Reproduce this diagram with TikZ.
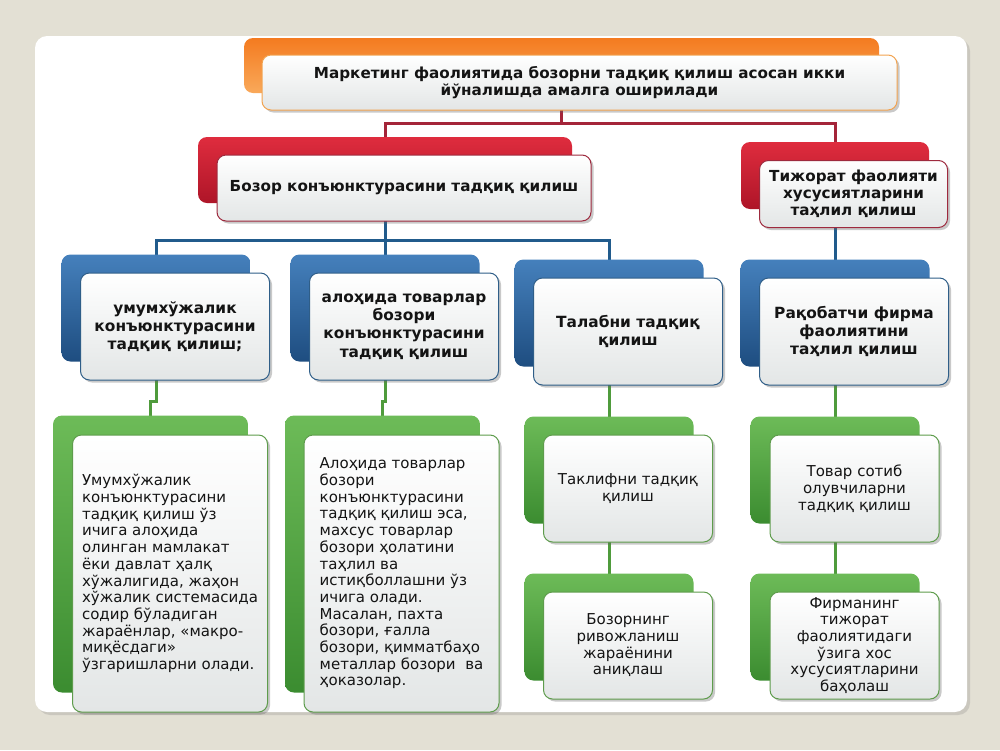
\documentclass[tikz,border=0pt]{standalone}
\usepackage{fontspec}
\setmainfont{DejaVu Sans}
\usetikzlibrary{shadows}
\definecolor{bgc}{HTML}{E3E0D4}
\definecolor{orT}{HTML}{F47B20}
\definecolor{orB}{HTML}{F9A95A}
\definecolor{orL}{HTML}{F2A350}
\definecolor{rdT}{HTML}{DF2C3E}
\definecolor{rdB}{HTML}{AE1528}
\definecolor{rdL}{HTML}{9E2A3E}
\definecolor{blT}{HTML}{4580BC}
\definecolor{blB}{HTML}{1E4D80}
\definecolor{blL}{HTML}{2F5E88}
\definecolor{grT}{HTML}{6DBB58}
\definecolor{grB}{HTML}{3B8C30}
\definecolor{grL}{HTML}{5E9C4C}
\definecolor{frB}{HTML}{E3E6E6}
\definecolor{conR}{HTML}{A42539}
\definecolor{conB}{HTML}{215B8C}
\definecolor{conG}{HTML}{4F9B3C}
\definecolor{txc}{HTML}{141414}
\begin{document}
\begin{tikzpicture}[x=1pt,y=-1pt,
  box/.style={rounded corners=9pt, inner sep=0pt, outer sep=0pt},
  bkO/.style={box, top color=orT, bottom color=orB},
  bkR/.style={box, top color=rdT, bottom color=rdB},
  bkB/.style={box, top color=blT, bottom color=blB},
  bkG/.style={box, top color=grT, bottom color=grB},
  fr/.style={box, top color=white, bottom color=frB, draw, line width=1pt,
    drop shadow={shadow xshift=2.5pt, shadow yshift=-2.5pt, opacity=.35, fill=black!60},
    align=center, text=txc},
  frO/.style={fr, draw=orL},
  frR/.style={fr, draw=rdL},
  frB/.style={fr, draw=blL},
  frG/.style={fr, draw=grL},
  txH/.style={font=\fontsize{15.2}{17}\selectfont\bfseries},
  txB/.style={font=\fontsize{15.4}{18.2}\selectfont\bfseries},
  txN/.style={font=\fontsize{15}{16.7}\selectfont},
  szT/.style={minimum width=635pt, minimum height=55pt},
  szR/.style={minimum width=374pt, minimum height=66pt},
  szRR/.style={minimum width=188pt, minimum height=67pt},
  szU/.style={minimum width=189pt, minimum height=107pt},
  szGL/.style={minimum width=195pt, minimum height=277pt},
  szG/.style={minimum width=169pt, minimum height=107pt},
  cR/.style={draw=conR, line width=3pt},
  cB/.style={draw=conB, line width=3pt},
  cG/.style={draw=conG, line width=3pt},
  panel/.style={fill=white, rounded corners=12pt, inner sep=0pt,
    minimum width=932pt, minimum height=676pt,
    drop shadow={shadow xshift=3pt, shadow yshift=-3pt, opacity=.25, fill=black!50}}
]
\useasboundingbox (0,0) rectangle (1000,750);
\fill[bgc] (0,0) rectangle (1000,750);
\node[panel] (panel) at (501,374) {};

\coordinate (j0) at (0,123);
\coordinate (j1) at (0,240);
\coordinate (j2) at (0,401);

\path (561.5,65.5) coordinate (topc) (385,170) coordinate (rLc) (835,175.5) coordinate (rRc)
  (156,308) coordinate (u1c) (385,308) coordinate (u2c) (609,313) coordinate (u3c) (835,313) coordinate (u4c)
  (150.5,554) coordinate (g1c) (382.5,554) coordinate (g2c) (609,470) coordinate (g3c) (835,470) coordinate (g4c)
  (609,627) coordinate (g5c) (835,627) coordinate (g6c);

% connectors (drawn first, behind boxes)
\draw[cR] (topc) -- (topc |- j0);
\draw[cR] (rLc) -- (rLc |- j0) -- (rRc |- j0) -- (rRc);
\draw[cB] (u1c) -- (u1c |- j1) -- (u3c |- j1) -- (u3c);
\draw[cB] (rLc) -- (u2c);
\draw[cB] (rRc) -- (u4c);
\draw[cG] (u1c) -- (u1c |- j2) -- (g1c |- j2) -- (g1c);
\draw[cG] (u2c) -- (u2c |- j2) -- (g2c |- j2) -- (g2c);
\draw[cG] (u3c) -- (g3c) -- (g5c);
\draw[cG] (u4c) -- (g4c) -- (g6c);

% back boxes
\node[bkO, szT] (topb) at (topc) {};
\node[bkR, szR] (rLb) at (rLc) {};
\node[bkR, szRR] (rRb) at (rRc) {};
\node[bkB, szU] (u1b) at (u1c) {};
\node[bkB, szU] (u2b) at (u2c) {};
\node[bkB, szU] (u3b) at (u3c) {};
\node[bkB, szU] (u4b) at (u4c) {};
\node[bkG, szGL] (g1b) at (g1c) {};
\node[bkG, szGL] (g2b) at (g2c) {};
\node[bkG, szG] (g3b) at (g3c) {};
\node[bkG, szG] (g4b) at (g4c) {};
\node[bkG, szG] (g5b) at (g5c) {};
\node[bkG, szG] (g6b) at (g6c) {};

% front boxes
\node[frO, szT, txH] (top) at (579.5,82.5) {Маркетинг фаолиятида бозорни тадқиқ қилиш асосан икки\\йўналишда амалга оширилади};
\node[frR, szR, txH] (rL) at (404,188) {Бозор конъюнктурасини тадқиқ қилиш};
\node[frR, szRR, txH] (rR) at (853.5,194) {Тижорат фаолияти\\хусусиятларини\\таҳлил қилиш};
\node[frB, szU, txB] (u1) at (175,326.5) {умумхўжалик\\конъюнктурасини\\тадқиқ қилиш;};
\node[frB, szU, txB] (u2) at (404,326.5) {алоҳида товарлар\\бозори\\конъюнктурасини\\тадқиқ қилиш};
\node[frB, szU, txB] (u3) at (628,331.5) {Талабни тадқиқ\\қилиш};
\node[frB, szU, txB] (u4) at (854,331.5) {Рақобатчи фирма\\фаолиятини\\таҳлил қилиш};
\node[frG, szGL, txN, align=left] (g1) at (170,573.5) {Умумхўжалик\\конъюнктурасини\\тадқиқ қилиш ўз\\ичига алоҳида\\олинган мамлакат\\ёки давлат ҳалқ\\хўжалигида, жаҳон\\хўжалик системасида\\содир бўладиган\\жараёнлар, «макро-\\миқёсдаги»\\ўзгаришларни олади.};
\node[frG, szGL, txN, align=left] (g2) at (401.5,573.5) {Алоҳида товарлар\\бозори\\конъюнктурасини\\тадқиқ қилиш эса,\\махсус товарлар\\бозори ҳолатини\\таҳлил ва\\истиқболлашни ўз\\ичига олади.\\Масалан, пахта\\бозори, ғалла\\бозори, қимматбаҳо\\металлар бозори~~ва\\ҳоказолар.};
\node[frG, szG, txN] (g3) at (628,488.5) {Таклифни тадқиқ\\қилиш};
\node[frG, szG, txN] (g4) at (854.5,488.5) {Товар сотиб\\олувчиларни\\тадқиқ қилиш};
\node[frG, szG, txN] (g5) at (628,645.5) {Бозорнинг\\ривожланиш\\жараёнини\\аниқлаш};
\node[frG, szG, txN] (g6) at (854.5,645.5) {Фирманинг\\тижорат\\фаолиятидаги\\ўзига хос\\хусусиятларини\\баҳолаш};
\end{tikzpicture}
\end{document}
